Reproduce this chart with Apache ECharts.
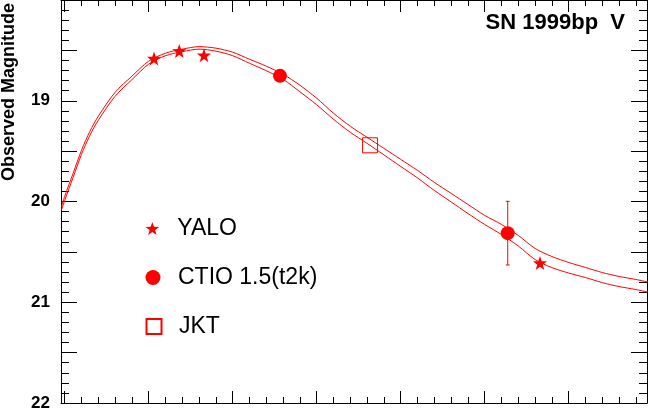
<!DOCTYPE html>
<html>
<head>
<meta charset="utf-8">
<script src="https://cdn.jsdelivr.net/npm/echarts@6/dist/echarts.min.js"></script>
<style>html,body{margin:0;padding:0;background:#fff}#c{width:648px;height:412px}</style>
</head>
<body>
<div id="c"></div>
<script>
// ---- data (days since an arbitrary epoch, observed V magnitude) ----
const curveDays = [-0.4, 0, 1, 2, 3, 4, 6, 8, 10, 12, 14, 16, 18, 20, 22, 24, 26, 28, 30, 32, 34, 36, 38, 40, 42, 44, 46, 48, 50, 52, 54, 56, 58, 60, 62, 64, 66, 68, 69.7];
const upperMag = [20.059, 19.949, 19.721, 19.492, 19.303, 19.154, 18.916, 18.756, 18.607, 18.528, 18.488, 18.463, 18.478, 18.518, 18.588, 18.657, 18.737, 18.846, 18.975, 19.124, 19.253, 19.363, 19.472, 19.582, 19.691, 19.810, 19.919, 20.029, 20.138, 20.228, 20.337, 20.466, 20.546, 20.605, 20.655, 20.705, 20.744, 20.774, 20.804];
const lowerMag = [20.089, 19.989, 19.761, 19.532, 19.343, 19.194, 18.956, 18.791, 18.637, 18.553, 18.513, 18.488, 18.508, 18.553, 18.628, 18.702, 18.787, 18.911, 19.040, 19.184, 19.313, 19.423, 19.537, 19.652, 19.766, 19.890, 20.004, 20.119, 20.228, 20.328, 20.442, 20.576, 20.656, 20.710, 20.755, 20.805, 20.844, 20.874, 20.904];

const yaloDay = [10.63, 13.64, 16.58, 56.58];
const yaloMag = [18.58, 18.505, 18.548, 20.61];
const ctioDay = [25.63, 52.74];
const ctioMag = [18.753, 20.314];
const ctioErr = [0.02, 0.316];
const jktDay = [36.35];
const jktMag = [19.442];

const xMajorTicks = [0, 10, 20, 30, 40, 50, 60];
const xMinorTicks = [2, 4, 6, 8, 12, 14, 16, 18, 22, 24, 26, 28, 32, 34, 36, 38, 42, 44, 46, 48, 52, 54, 56, 58, 62, 64, 66, 68];
const yLabels = [19, 20, 21, 22];

const seriesNames = ['YALO', 'CTIO 1.5(t2k)', 'JKT'];
const chartTitle = 'SN 1999bp  V';
const yTitle = 'Observed Magnitude';

// ---- chart ----
const RED = '#ff0000';
const FONT = '"Liberation Sans", Arial, Helvetica, sans-serif';
const STAR = 'path://M0,-10 L2.35,-3.24 L9.51,-3.09 L3.8,1.24 L5.88,8.09 L0,4 L-5.88,8.09 L-3.8,1.24 L-9.51,-3.09 L-2.35,-3.24 Z';
const SQUARE = 'path://M0,0 L10,0 L10,10 L0,10 Z';
const X_MIN = -0.44, X_MAX = 69.32;

function zip(a, b) { return a.map((v, i) => [v, b[i]]); }

function xAxisDef(pos, ticks, len, showLine) {
  return {
    type: 'value', position: pos, min: X_MIN, max: X_MAX,
    axisLine: { show: showLine, onZero: false, lineStyle: { color: '#000', width: 1 } },
    axisTick: { show: true, inside: true, length: len, customValues: ticks, lineStyle: { color: '#000', width: 1 } },
    axisLabel: { show: false },
    splitLine: { show: false }
  };
}
function yAxisDef(pos, labels) {
  return {
    type: 'value', position: pos, inverse: true, min: 18, max: 22, interval: 0.5,
    axisLine: { show: true, onZero: false, lineStyle: { color: '#000', width: 1 } },
    axisTick: { show: true, inside: true, length: 16, lineStyle: { color: '#000', width: 1 } },
    minorTick: { show: true, splitNumber: 5, length: 8, lineStyle: { color: '#000', width: 1 } },
    axisLabel: labels ? {
      show: true, margin: 11, color: '#000', fontWeight: 'bold', fontSize: 17, fontFamily: FONT,
      formatter: v => (yLabels.indexOf(Math.round(v * 10) / 10) >= 0 ? String(v) : '')
    } : { show: false },
    splitLine: { show: false }
  };
}

function legendDef(name, top, h, left) {
  return {
    orient: 'vertical', left: left, top: top, padding: 0, itemWidth: 40, itemHeight: h,
    data: [name], selectedMode: false,
    textStyle: { fontSize: 23, fontFamily: FONT, color: '#000' }
  };
}

const chart = echarts.init(document.getElementById('c'), null, { renderer: 'canvas' });
chart.setOption({
  animation: false,
  backgroundColor: '#fff',
  title: {
    text: chartTitle, right: 18, top: 7,
    textStyle: { fontSize: 22, fontWeight: 'bold', fontFamily: FONT, color: '#000' }
  },
  grid: { left: 61, right: 1, top: 0, bottom: 9, containLabel: false },
  xAxis: [
    xAxisDef('bottom', xMajorTicks, 12, true),
    xAxisDef('bottom', xMinorTicks, 6, false),
    xAxisDef('top', xMajorTicks, 12, true),
    xAxisDef('top', xMinorTicks, 6, false)
  ],
  yAxis: [yAxisDef('left', true), yAxisDef('right', false)],
  legend: [
    legendDef(seriesNames[0], 217, 13, 145.5),
    legendDef(seriesNames[1], 266, 15, 145.5),
    legendDef(seriesNames[2], 315, 15, 145.5)
  ],
  graphic: [{
    type: 'text', x: 9, y: 92, rotation: Math.PI / 2,
    style: { text: yTitle, font: 'bold 18px ' + FONT, fill: '#000', align: 'center', verticalAlign: 'middle' }
  }],
  series: [
    { type: 'line', name: 'fit1', data: zip(curveDays, upperMag), showSymbol: false, smooth: 0.3, lineStyle: { color: RED, width: 1 }, itemStyle: { color: RED }, silent: true },
    { type: 'line', name: 'fit2', data: zip(curveDays, lowerMag), showSymbol: false, smooth: 0.3, lineStyle: { color: RED, width: 1 }, itemStyle: { color: RED }, silent: true },
    {
      type: 'custom', name: 'ctioErr', silent: true,
      data: ctioDay.map((d, i) => [d, ctioMag[i], ctioErr[i]]),
      renderItem: function (params, api) {
        const x = api.value(0), y = api.value(1), e = api.value(2);
        const top = api.coord([x, y - e]);
        const bot = api.coord([x, y + e]);
        const st = { stroke: RED, lineWidth: 1 };
        return {
          type: 'group', children: [
            { type: 'line', shape: { x1: top[0], y1: top[1], x2: bot[0], y2: bot[1] }, style: st },
            { type: 'line', shape: { x1: top[0] - 2, y1: top[1], x2: top[0] + 2, y2: top[1] }, style: st },
            { type: 'line', shape: { x1: bot[0] - 2, y1: bot[1], x2: bot[0] + 2, y2: bot[1] }, style: st }
          ]
        };
      }
    },
    { type: 'scatter', name: seriesNames[0], data: zip(yaloDay, yaloMag), symbol: STAR, symbolSize: 14, itemStyle: { color: RED, opacity: 1 } },
    { type: 'scatter', name: seriesNames[1], data: zip(ctioDay, ctioMag), symbol: 'circle', symbolSize: 14, itemStyle: { color: RED, opacity: 1 } },
    { type: 'scatter', name: seriesNames[2], data: zip(jktDay, jktMag), symbol: SQUARE, symbolSize: 15, itemStyle: { color: 'rgba(0,0,0,0)', borderColor: RED, borderWidth: 1, opacity: 1 } }
  ]
});
</script>
</body>
</html>
